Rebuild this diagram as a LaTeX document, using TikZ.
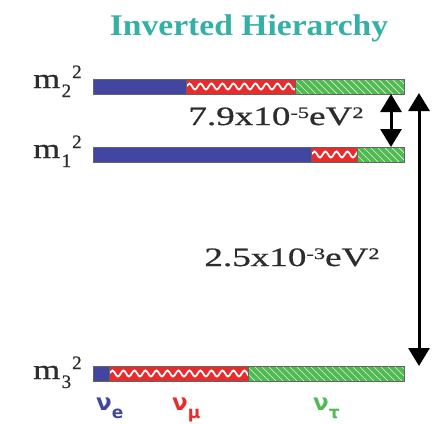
\documentclass[tikz,border=0pt]{standalone}
\usepackage{fontspec}
\setmainfont{Liberation Serif}
\newfontfamily\labelfont[FakeBold=0.7]{Liberation Serif}
\newfontfamily\nufont{DejaVu Sans}
\usetikzlibrary{arrows.meta,decorations.pathmorphing}
\definecolor{nublue}{RGB}{66,70,160}
\definecolor{nured}{RGB}{232,44,44}
\definecolor{nugreen}{RGB}{82,186,82}
\definecolor{titleteal}{RGB}{52,176,166}
\definecolor{txtgray}{RGB}{45,45,45}
\definecolor{edgegray}{RGB}{100,100,100}
% #1 y top, #2 x end of blue, #3 x end of red
\newcommand\levelbar[3]{%
  \fill[nublue] (93,#1) rectangle (#2,#1+15);
  \fill[nured] (#2,#1) rectangle (#3,#1+15);
  \begin{scope}
    \clip (#2,#1) rectangle (#3,#1+15);
    \draw[white, line width=1.8pt, decorate,
      decoration={snake, amplitude=3pt, segment length=11pt}]
      (#2,#1+7.5) -- (#3+11,#1+7.5);
  \end{scope}
  \fill[nugreen] (#3,#1) rectangle (404,#1+15);
  \begin{scope}
    \clip (#3,#1) rectangle (404,#1+15);
    \foreach \k in {0,7,...,330}
      \draw[white!80!nugreen, line width=0.7pt] (#3+\k-15,#1) -- ++(15,15);
  \end{scope}
  \draw[edgegray, line width=1pt] (93,#1) rectangle (404,#1+15);
  \draw[edgegray, line width=0.6pt] (#2,#1) -- (#2,#1+15) (#3,#1) -- (#3,#1+15);
}
\newcommand\msq[1]{\scalebox{1.24}[1]{m}\hspace{1.5pt}\raisebox{-9pt}{\fontsize{19}{19}\selectfont #1}\hspace{1pt}\raisebox{10pt}{\fontsize{19}{19}\selectfont 2}}
\newcommand\sqsup[1]{\raisebox{7pt}{\fontsize{16}{16}\selectfont #1}}
\tikzset{
  mlabel/.style={anchor=base west, inner sep=0pt, font=\labelfont\fontsize{28}{30}\selectfont, text=txtgray},
  dmlabel/.style={anchor=base, inner sep=0pt, font=\labelfont\fontsize{26.5}{28}\selectfont, text=txtgray},
  dblarrow/.style={line width=3pt, {Triangle[width=21pt,length=18pt]}-{Triangle[width=21pt,length=18pt]}},
  nulabel/.style={anchor=base west, inner sep=0pt, font=\nufont\bfseries\fontsize{23}{24}\selectfont}
}
\begin{document}
\begin{tikzpicture}[x=1pt,y=-1pt]
\useasboundingbox (0,0) rectangle (438,423);
\node[font=\bfseries\fontsize{30}{32}\selectfont, text=titleteal, anchor=base, inner sep=0pt] (title) at (249,35) {\scalebox{1.12}[1]{Inverted Hierarchy}};

\levelbar{79}{186}{295}
\levelbar{147}{311}{357}
\levelbar{366}{109}{248}

\coordinate (m2r) at (391,94);
\coordinate (m1r) at (391,147);
\coordinate (topr) at (419,93);
\coordinate (botr) at (419,366);

\node[mlabel] (m2) at (33,88) {\msq{2}};
\node[mlabel] (m1) at (33,158) {\msq{1}};
\node[mlabel] (m3) at (33,379) {\msq{3}};

\node[dmlabel] (dsol) at (276,125) {\scalebox{1.4}[1]{7.9x10\sqsup{-5}eV\sqsup{2}}};
\node[dmlabel] (datm) at (292,266) {\scalebox{1.4}[1]{2.5x10\sqsup{-3}eV\sqsup{2}}};

\draw[dblarrow] (m2r) -- (m1r);
\draw[dblarrow] (topr) -- (botr);

\node[nulabel, text=nublue] (nue) at (96,410) {ν\raisebox{-8pt}{\fontsize{17}{17}\selectfont e}};
\node[nulabel, text=nured] (num) at (172,410) {ν\raisebox{-8pt}{\fontsize{17}{17}\selectfont μ}};
\node[nulabel, text=nugreen] (nut) at (313,410) {ν\raisebox{-8pt}{\fontsize{17}{17}\selectfont τ}};
\end{tikzpicture}
\end{document}
